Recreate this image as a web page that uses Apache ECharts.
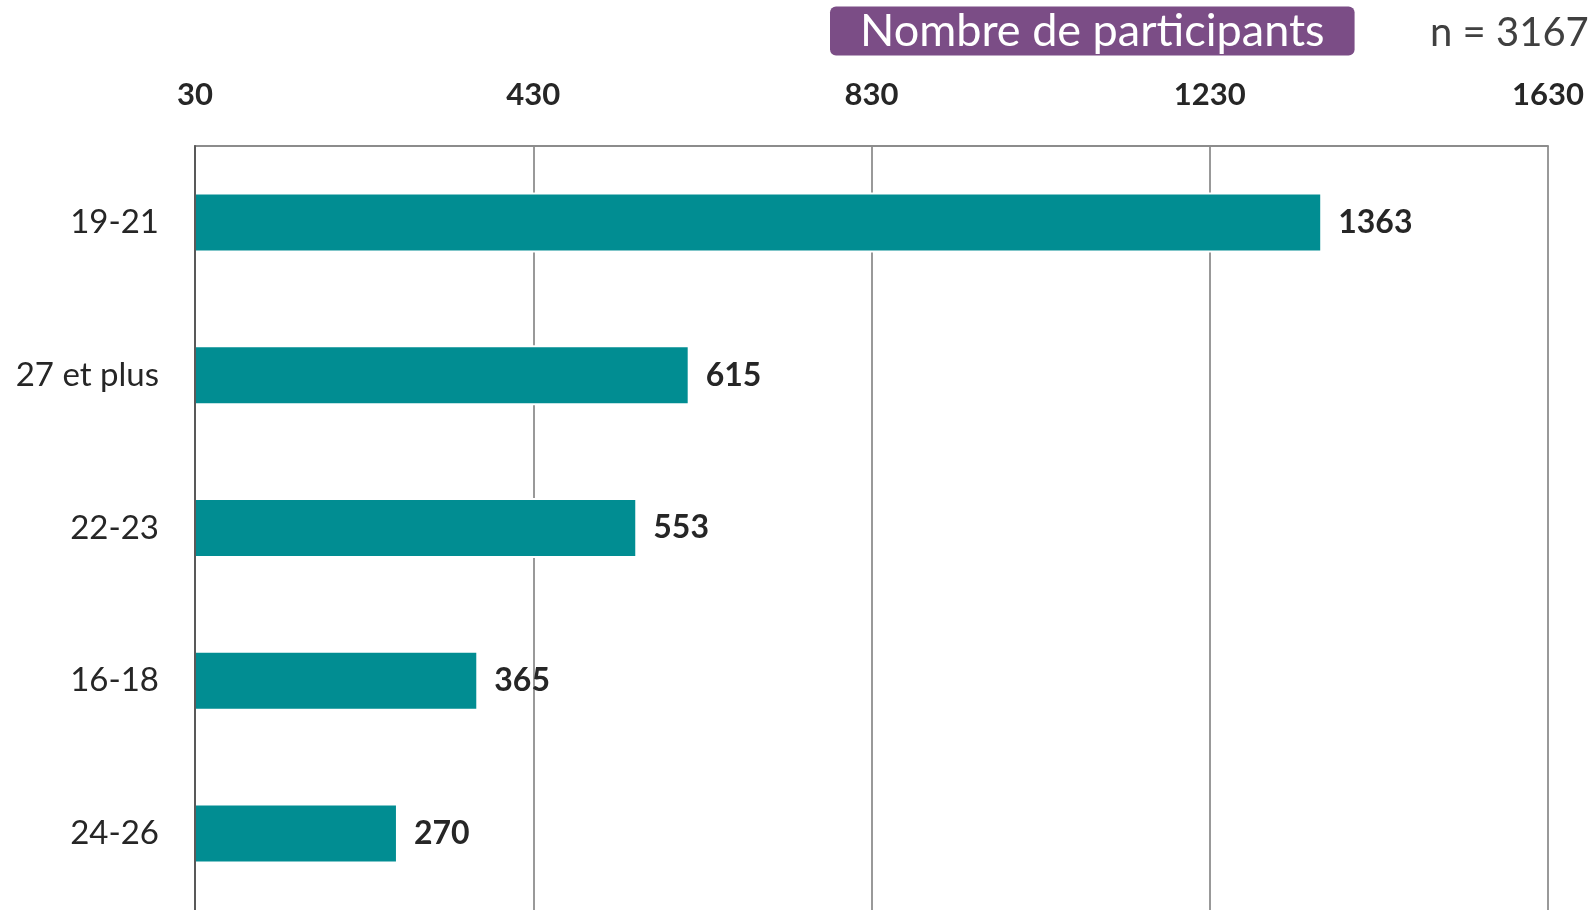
<!DOCTYPE html>
<html>
<head>
<meta charset="utf-8">
<script src="https://cdn.jsdelivr.net/npm/echarts@6/dist/echarts.min.js"></script>
<style>
  html, body { margin: 0; padding: 0; background: #fff; }
  #chart { width: 1596px; height: 910px; }
</style>
</head>
<body>
<div id="chart"></div>
<script>
// tranches d'âge (de haut en bas)
const categories = ['19-21', '27 et plus', '22-23', '16-18', '24-26']
const values = [1363, 615, 553, 365, 270]
const axisTicks = [30, 430, 830, 1230, 1630]

const myChart = echarts.init(document.getElementById('chart'))

const option = {
  animation: false,
  title: [
    {
      text: 'Nombre de participants',
      left: 830,
      top: 7,
      backgroundColor: '#7B4D86',
      borderRadius: 6,
      padding: [2, 30, 2, 30],
      textStyle: {
        color: '#fff',
        fontFamily: 'Lato',
        fontWeight: 'normal',
        fontSize: 45,
        lineHeight: 44
      }
    },
    {
      text: 'n = 3167',
      left: 1425,
      top: 8,
      textStyle: {
        color: '#404040',
        fontFamily: 'Lato',
        fontWeight: 'normal',
        fontSize: 40
      }
    }
  ],
  grid: {
    left: 195,
    right: 48,
    top: 146,
    bottom: -2,
    containLabel: false
  },
  xAxis: {
    type: 'value',
    position: 'top',
    min: axisTicks[0],
    max: axisTicks[axisTicks.length - 1],
    interval: 400,
    axisLine: { show: true, lineStyle: { color: '#8C8C8C', width: 2 } },
    axisTick: { show: false },
    axisLabel: {
      margin: 36,
      color: '#262626',
      fontFamily: 'Lato',
      fontWeight: 'bold',
      fontSize: 31,
      formatter: v => String(v)
    },
    splitLine: { show: true, lineStyle: { color: '#999', width: 2 } }
  },
  yAxis: {
    type: 'category',
    data: categories,
    inverse: true,
    z: 5,
    axisLine: { show: true, lineStyle: { color: '#595959', width: 2 } },
    axisTick: { show: false },
    axisLabel: {
      margin: 36,
      color: '#262626',
      fontFamily: 'Lato',
      fontSize: 33
    },
    splitLine: { show: false }
  },
  series: [
    {
      type: 'bar',
      data: values,
      barWidth: 60,
      itemStyle: {
        color: '#018D92',
        borderColor: '#fff',
        borderWidth: 2
      },
      label: {
        show: true,
        position: 'right',
        distance: 16,
        color: '#262626',
        fontFamily: 'Lato',
        fontWeight: 'bold',
        fontSize: 32
      }
    }
  ]
}

myChart.setOption(option)
</script>
</body>
</html>
